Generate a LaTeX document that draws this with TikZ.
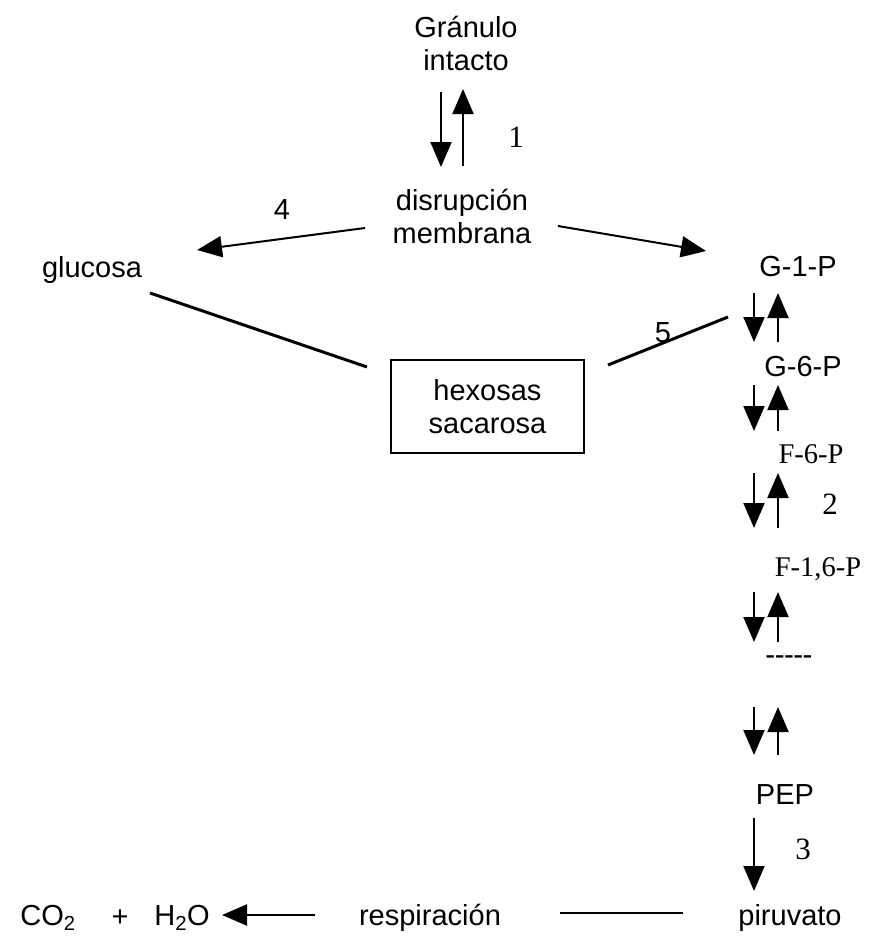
\documentclass[tikz,border=0pt]{standalone}
\usepackage{fontspec}
\setmainfont{Liberation Sans}
\newfontfamily\timesfont{Liberation Serif}
\usetikzlibrary{arrows.meta}
\begin{document}
\begin{tikzpicture}[x=1pt,y=-1pt,
  lbl/.style={font=\fontsize{29}{33}\selectfont, inner sep=0pt, align=center},
  tlbl/.style={font=\timesfont\fontsize{28.5}{33}\selectfont, inner sep=0pt},
  num/.style={font=\timesfont\fontsize{31}{33}\selectfont, inner sep=0pt},
  arr/.style={line width=2pt, -{Triangle[width=21pt,length=25pt]}},
  link/.style={line width=3pt},
  boxed/.style={lbl, draw, line width=1.4pt, minimum width=193pt, minimum height=93pt}
]
\useasboundingbox (0,0) rectangle (878,950);

% metabolites
\node[lbl] (gran) at (466,43) {Gránulo\\intacto};
\node[lbl] (disr) at (462,216) {disrupción\\membrana};
\node[lbl] (glu) at (92,270) {glucosa};
\node[boxed] (hex) at (487.5,406.5) {hexosas\\sacarosa};
\node[lbl] (g1p) at (798,267) {G-1-P};
\node[lbl] (g6p) at (803,367) {G-6-P};
\node[tlbl] (f6p) at (811,454) {F-6-P};
\node[tlbl] (f16p) at (818,569) {F-1,6-P};
\node[tlbl, font=\timesfont\bfseries\fontsize{28}{33}\selectfont] (gap) at (789,660) {-----};
\node[lbl] (pep) at (785,795) {PEP};
\node[lbl] (pir) at (790,918) {piruvato};
\node[lbl] (resp) at (430,918) {respiración};
\node[lbl] (co2) at (48,918) {CO\textsubscript{2}};
\node[lbl] (plus) at (120,918) {+};
\node[lbl] (h2o) at (182,918) {H\textsubscript{2}O};

% step numbers
\node[num] (n1) at (516,137) {1};
\node[lbl] (n4) at (282,210) {4};
\node[lbl] (n5) at (663,333) {5};
\node[num] (n2) at (830,504) {2};
\node[num] (n3) at (803,849) {3};

% granule <-> membrane disruption
\coordinate (gd1) at (441,92);  \coordinate (gd2) at (441,167);
\coordinate (gu1) at (463,166); \coordinate (gu2) at (463,89);
\draw[arr] (gd1) -- (gd2);
\draw[arr] (gu1) -- (gu2);

% branches from the disrupted membrane
\coordinate (dl) at (365,228); \coordinate (gluR) at (197,250);
\coordinate (dr) at (558,226); \coordinate (g1pL) at (706,251);
\draw[arr] (dl) -- (gluR);
\draw[arr] (dr) -- (g1pL);

% links to the soluble sugars
\coordinate (gluS) at (150,293); \coordinate (hexW) at (367,367);
\coordinate (hexE) at (608,365); \coordinate (g1pS) at (728,317);
\draw[link] (gluS) -- (hexW);
\draw[link] (hexE) -- (g1pS);

% reversible glycolytic steps
\foreach \k/\ya/\yb in {1/293/342, 2/385/431, 3/473/528, 4/592/642, 5/707/755}{
  \coordinate (dn\k a) at (754,\ya); \coordinate (dn\k b) at (754,\yb);
  \coordinate (up\k a) at (778,\yb); \coordinate (up\k b) at (778,\ya);
  \draw[arr] (dn\k a) -- (dn\k b);
  \draw[arr] (up\k a) -- (up\k b);
}

% PEP -> pyruvate
\coordinate (pepS) at (754,818); \coordinate (pirN) at (754,891);
\draw[arr] (pepS) -- (pirN);

% respiration
\coordinate (pirW) at (683,913); \coordinate (respE) at (560,913);
\draw[line width=2pt] (pirW) -- (respE);
\coordinate (respW) at (315,915); \coordinate (h2oE) at (222,915);
\draw[arr] (respW) -- (h2oE);
\end{tikzpicture}
\end{document}
